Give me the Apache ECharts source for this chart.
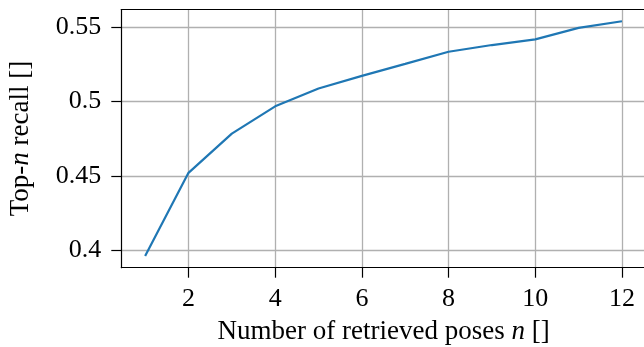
<!DOCTYPE html>
<html>
<head>
<meta charset="utf-8">
<script src="https://cdn.jsdelivr.net/npm/echarts@6/dist/echarts.min.js"></script>
<style>
html,body{margin:0;padding:0;background:#fff;}
#chart{width:644px;height:347px;}
</style>
</head>
<body>
<div id="chart"></div>
<script>
// Data
var nValues = [1, 2, 3, 4, 5, 6, 7, 8, 9, 10, 11, 12];
var recall = [0.3962, 0.4521, 0.4784, 0.4968, 0.5088, 0.5173, 0.5253, 0.5335, 0.5380, 0.5418, 0.5495, 0.5540];
var xTicks = [2, 4, 6, 8, 10, 12];
var yTicks = [0.4, 0.45, 0.5, 0.55];

var FONT = 'Liberation Serif';

// matplotlib-style 5% margins
function pad(arr) {
  var lo = Math.min.apply(null, arr), hi = Math.max.apply(null, arr);
  var m = (hi - lo) * 0.05;
  return [lo - m, hi + m];
}
var xr = pad(nValues), yr = pad(recall);

var chart = echarts.init(document.getElementById('chart'), null, {renderer: 'canvas'});
chart.setOption({
  animation: false,
  backgroundColor: '#ffffff',
  grid: {
    left: 121.3, right: -1.8, top: 9.5, bottom: 79.3,
    show: false,
    containLabel: false,
    outerBoundsMode: 'none'
  },
  xAxis: [{
    type: 'value',
    position: 'bottom',
    min: xr[0], max: xr[1],
    axisLine: {show: true, onZero: false, lineStyle: {color: '#000', width: 1.2}},
    axisTick: {show: true, inside: false, length: 10, customValues: xTicks, lineStyle: {color: '#000', width: 1.2}},
    axisLabel: {customValues: xTicks, margin: 18, fontFamily: FONT, fontSize: 26, color: '#000'},
    splitLine: {show: true, lineStyle: {color: '#b0b0b0', width: 1.3}},
    name: '{r|Number of retrieved poses }{i|n}{r| []}',
    nameLocation: 'middle',
    nameGap: 51,
    nameTextStyle: {
      rich: {
        r: {fontFamily: FONT, fontSize: 27, color: '#000'},
        i: {fontFamily: FONT, fontSize: 27, fontStyle: 'italic', color: '#000'}
      }
    }
  }, {
    type: 'value',
    position: 'top',
    min: xr[0], max: xr[1],
    axisLine: {show: true, onZero: false, lineStyle: {color: '#000', width: 1.2}},
    axisTick: {show: false},
    axisLabel: {show: false},
    splitLine: {show: false}
  }],
  yAxis: {
    type: 'value',
    min: yr[0], max: yr[1],
    axisLine: {show: true, onZero: false, lineStyle: {color: '#000', width: 1.2}},
    axisTick: {show: true, inside: false, length: 10, customValues: yTicks, lineStyle: {color: '#000', width: 1.2}},
    axisLabel: {customValues: yTicks, margin: 20, fontFamily: FONT, fontSize: 26, color: '#000'},
    splitLine: {show: true, lineStyle: {color: '#b0b0b0', width: 1.3}},
    name: '{r|Top-}{i|n}{r| recall []}',
    nameLocation: 'middle',
    nameGap: 87,
    nameRotate: 90,
    nameTextStyle: {
      rich: {
        r: {fontFamily: FONT, fontSize: 27, color: '#000'},
        i: {fontFamily: FONT, fontSize: 27, fontStyle: 'italic', color: '#000'}
      }
    }
  },
  series: [{
    type: 'line',
    xAxisIndex: 0,
    data: nValues.map(function (n, i) { return [n, recall[i]]; }),
    showSymbol: false,
    symbol: 'none',
    lineStyle: {color: '#1f77b4', width: 2.2},
    clip: false
  }]
});
</script>
</body>
</html>
